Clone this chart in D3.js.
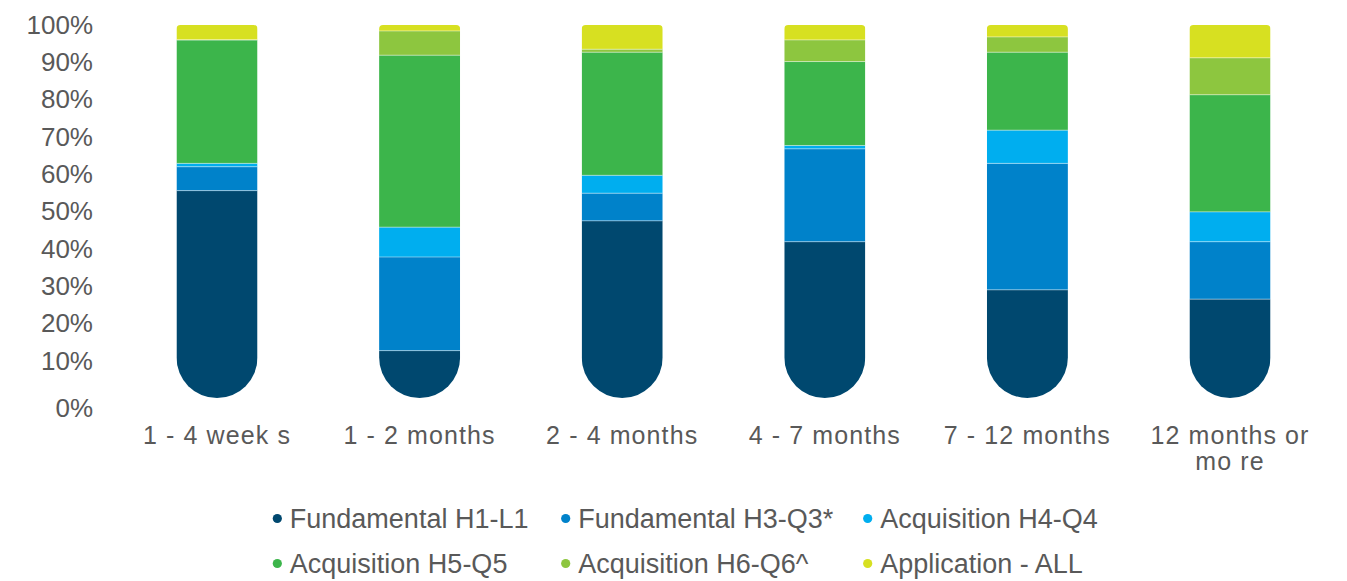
<!DOCTYPE html>
<html>
<head>
<meta charset="utf-8">
<script src="https://cdn.jsdelivr.net/npm/d3@7"></script>
<style>
  html, body { margin: 0; padding: 0; background: #ffffff; }
  svg { display: block; font-family: "Liberation Sans", Arial, sans-serif; }
</style>
</head>
<body>
<svg id="chart" width="1347" height="581"></svg>
<script>
// Time-span categories (a "\n" marks a line break in the axis label)
const categories = ["1 - 4 week s", "1 - 2 months", "2 - 4 months", "4 - 7 months", "7 - 12 months", "12 months or\nmo re"];

// Series names, bottom to top
const seriesNames = ["Fundamental H1-L1", "Fundamental H3-Q3*", "Acquisition H4-Q4", "Acquisition H5-Q5", "Acquisition H6-Q6^", "Application - ALL"];
const seriesColors = ["#00486f", "#0082ca", "#00aeef", "#3cb54b", "#8dc63f", "#d7e021"];

// Share (%) per category for each series
const fundamentalH1L1 = [55.6, 12.7, 47.5, 41.9, 29.0, 26.5];
const fundamentalH3Q3 = [6.4, 25.1, 7.4, 24.9, 33.9, 15.4];
const acquisitionH4Q4 = [0.9, 8.0, 4.8, 0.9, 8.9, 8.0];
const acquisitionH5Q5 = [33.1, 46.1, 33.0, 22.5, 20.9, 31.4];
const acquisitionH6Q6 = [0.0, 6.5, 0.8, 5.8, 4.1, 9.9];
const applicationAll = [4.0, 1.6, 6.5, 4.0, 3.2, 8.8];

const yTicks = [0, 10, 20, 30, 40, 50, 60, 70, 80, 90, 100];

const seriesValues = [fundamentalH1L1, fundamentalH3Q3, acquisitionH4Q4, acquisitionH5Q5, acquisitionH6Q6, applicationAll];
const rows = categories.map((c, i) => {
  const r = { category: c };
  seriesNames.forEach((s, k) => { r[s] = seriesValues[k][i]; });
  return r;
});

const svg = d3.select("#chart");
const textColor = "#595959";

const x = d3.scaleBand()
  .domain(categories)
  .range([115.7, 1331.3])
  .paddingInner(0.6)
  .paddingOuter(0.3);

const y = d3.scaleLinear().domain([0, 100]).range([398, 25]);

const stacked = d3.stack().keys(seriesNames)(rows);
const color = d3.scaleOrdinal().domain(seriesNames).range(seriesColors);

// Tube-shaped clip for each bar: small rounded top, semicircular bottom
const defs = svg.append("defs");
categories.forEach((c, i) => {
  const x0 = x(c), w = x.bandwidth();
  const top = y(100), bottom = y(0);
  const r = w / 2, rt = 4;
  const p = `M${x0},${top + rt} Q${x0},${top} ${x0 + rt},${top} H${x0 + w - rt} Q${x0 + w},${top} ${x0 + w},${top + rt} V${bottom - r} A${r},${r} 0 0 1 ${x0},${bottom - r} Z`;
  defs.append("clipPath").attr("id", "tube" + i).append("path").attr("d", p);
});

const bars = svg.append("g").selectAll("g.bar")
  .data(categories)
  .join("g")
  .attr("class", "bar")
  .attr("clip-path", (d, i) => `url(#tube${i})`);

bars.each(function (cat, i) {
  const g = d3.select(this);
  stacked.forEach(layer => {
    const d = layer[i];
    if (d[1] - d[0] <= 0) return;
    g.append("rect")
      .attr("x", x(cat))
      .attr("width", x.bandwidth())
      .attr("y", y(d[1]))
      .attr("height", y(d[0]) - y(d[1]))
      .attr("fill", color(layer.key));
  });
  // light seams between segments
  stacked.slice(0, -1).forEach(layer => {
    const d = layer[i];
    g.append("line")
      .attr("x1", x(cat)).attr("x2", x(cat) + x.bandwidth())
      .attr("y1", y(d[1])).attr("y2", y(d[1]))
      .attr("stroke", "rgba(255,255,255,0.45)")
      .attr("stroke-width", 1);
  });
});

// Y axis (labels only)
const yAxis = svg.append("g")
  .attr("transform", "translate(93,0)")
  .call(d3.axisLeft(y).tickValues(yTicks).tickFormat(d => d + "%").tickSize(0).tickPadding(0));
yAxis.select(".domain").remove();
yAxis.selectAll("text")
  .attr("fill", textColor)
  .style("font-size", "26px")
  .style("font-family", "'Liberation Sans', Arial, sans-serif")
  .attr("dy", d => d === 0 ? "0.7em" : "0.32em");

// X axis labels
const xAxis = svg.append("g");
xAxis.selectAll("text")
  .data(categories)
  .join("text")
  .attr("x", d => x(d) + x.bandwidth() / 2)
  .attr("y", 444)
  .attr("text-anchor", "middle")
  .attr("fill", textColor)
  .style("font-size", "25px")
  .style("letter-spacing", "1.1px")
  .each(function (d) {
    const t = d3.select(this);
    d.split("\n").forEach((line, k) => {
      t.append("tspan")
        .attr("x", x(d) + x.bandwidth() / 2)
        .attr("dy", k === 0 ? 0 : 26)
        .text(line);
    });
  });

// Legend: two rows of three
const legendCols = [277.3, 565.7, 867.7];
const legendRows = [528, 573];
const legend = svg.append("g");
seriesNames.forEach((name, idx) => {
  const cx = legendCols[idx % 3];
  const base = legendRows[Math.floor(idx / 3)];
  legend.append("circle")
    .attr("cx", cx).attr("cy", base - 9.5).attr("r", 4.6)
    .attr("fill", seriesColors[idx]);
  legend.append("text")
    .attr("x", cx + 12.5).attr("y", base)
    .attr("fill", textColor)
    .style("font-size", "27px")
    .text(name);
});
</script>
</body>
</html>
